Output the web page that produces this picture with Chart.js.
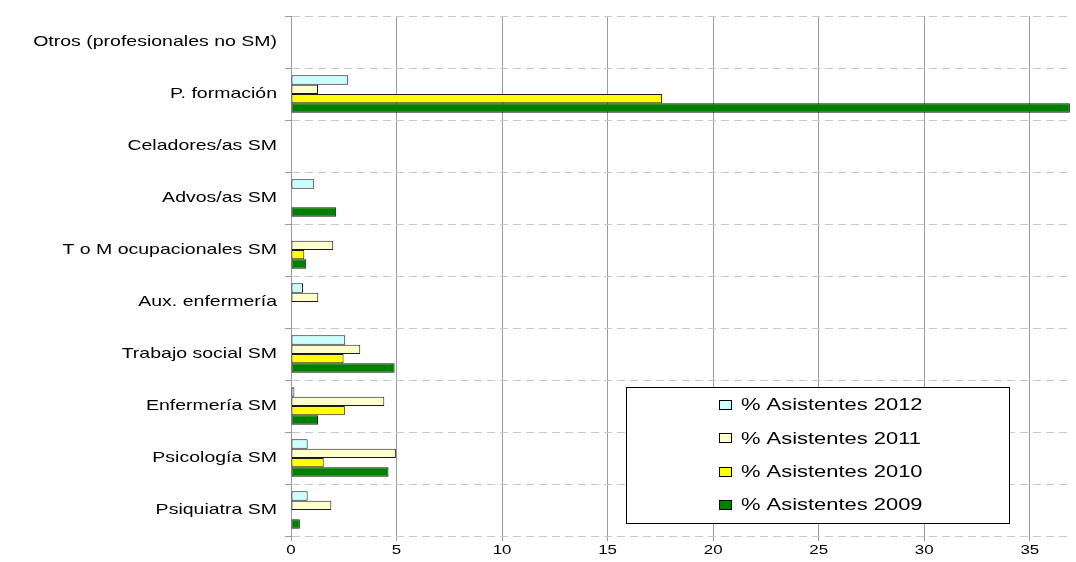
<!DOCTYPE html>
<html>
<head>
<meta charset="utf-8">
<script src="https://cdn.jsdelivr.net/npm/chart.js@4.4.0/dist/chart.umd.min.js"></script>
<style>
  html, body { margin: 0; padding: 0; background: #fff; }
  #wrap { width: 1076px; height: 562px; }
</style>
</head>
<body>
<div id="wrap"><canvas id="c" width="1076" height="562"></canvas></div>
<script>
// Professional categories (top to bottom)
const categories = [
  'Otros (profesionales no SM)',
  'P. formación',
  'Celadores/as SM',
  'Advos/as SM',
  'T o M ocupacionales SM',
  'Aux. enfermería',
  'Trabajo social SM',
  'Enfermería SM',
  'Psicología SM',
  'Psiquiatra SM'
];

// Percentage of attendees per year
const asistentes2012 = [null, 2.71, null, 1.1, null, 0.57, 2.57, 0.16, 0.79, 0.79];
const asistentes2011 = [null, 1.28, null, null, 2.0, 1.29, 3.28, 4.42, 4.97, 1.91];
const asistentes2010 = [null, 17.58, null, null, 0.63, null, 2.49, 2.55, 1.55, null];
const asistentes2009 = [null, 36.9, null, 2.14, 0.72, null, 4.91, 1.28, 4.62, 0.42];

const xTicks = [0, 5, 10, 15, 20, 25, 30, 35];

const seriesLabels = ['% Asistentes 2012', '% Asistentes 2011', '% Asistentes 2010', '% Asistentes 2009'];
const seriesColors = ['#CCFFFF', '#FFFFCC', '#FFFF00', '#008000'];
const seriesValues = [asistentes2012, asistentes2011, asistentes2010, asistentes2009];

const FONT = '"Liberation Sans", Arial, sans-serif';
const STRETCH = 1.3;   // horizontally widened lettering

// Draw text stretched horizontally, anchored at (x, y) with the given alignment
function wideText(ctx, text, x, y, size, align, sx) {
  ctx.save();
  ctx.font = size + 'px ' + FONT;
  ctx.textBaseline = 'middle';
  ctx.fillStyle = '#000000';
  const w = ctx.measureText(text).width * sx;
  let left = x;
  if (align === 'right') left = x - w;
  else if (align === 'center') left = x - w / 2;
  ctx.translate(left, y);
  ctx.scale(sx, 1);
  ctx.textAlign = 'left';
  ctx.fillText(text, 0, 0);
  ctx.restore();
}

// Axis labels drawn at the positions the scales give
const axisLabels = {
  id: 'axisLabels',
  afterDraw(chart) {
    const ctx = chart.ctx;
    const ys = chart.scales.y;
    const xs = chart.scales.x;
    ys.ticks.forEach((t, i) => {
      wideText(ctx, String(chart.data.labels[t.value]), 277, ys.getPixelForTick(i), 15, 'right', STRETCH);
    });
    xs.ticks.forEach((t) => {
      wideText(ctx, String(t.value), xs.getPixelForValue(t.value), 550, 13, 'center', STRETCH);
    });
  }
};

// Boxed legend drawn inside the plot area
const boxedLegend = {
  id: 'boxedLegend',
  afterDraw(chart) {
    const ctx = chart.ctx;
    const x0 = 626, y0 = 387, w = 383, h = 136;
    ctx.save();
    ctx.fillStyle = '#ffffff';
    ctx.fillRect(x0, y0, w, h);
    ctx.strokeStyle = '#000000';
    ctx.lineWidth = 1;
    ctx.setLineDash([]);
    ctx.strokeRect(x0 + 0.5, y0 + 0.5, w, h);
    chart.data.datasets.forEach((ds, i) => {
      const cy = 405 + i * 33.3;
      ctx.fillStyle = ds.backgroundColor;
      ctx.fillRect(719.5, Math.round(cy) - 4.5, 12, 9);
      ctx.strokeStyle = '#000000';
      ctx.strokeRect(719.5, Math.round(cy) - 4.5, 12, 9);
      wideText(ctx, ds.label, 741, cy + 1, 16, 'left', 1.37);
    });
    ctx.restore();
  }
};

new Chart(document.getElementById('c'), {
  type: 'bar',
  data: {
    labels: categories,
    datasets: seriesLabels.map((label, i) => ({
      label: label,
      data: seriesValues[i],
      backgroundColor: seriesColors[i],
      borderColor: '#1a1a1a',
      borderWidth: 1,
      borderSkipped: false,
      categoryPercentage: 0.72,
      barPercentage: 1.0
    }))
  },
  options: {
    indexAxis: 'y',
    responsive: false,
    animation: false,
    layout: { padding: { top: 16, right: 4, left: 0, bottom: 0 } },
    plugins: {
      legend: { display: false },
      tooltip: { enabled: false }
    },
    scales: {
      x: {
        min: 0,
        max: 37,
        afterBuildTicks(scale) {
          scale.ticks = xTicks.map(v => ({ value: v }));
        },
        afterFit(scale) { scale.height = 26; },
        grid: {
          color: '#9a9a9a',
          lineWidth: 1,
          drawTicks: true,
          tickLength: 5
        },
        border: { display: false },
        ticks: { display: false }
      },
      y: {
        afterFit(scale) { scale.width = 291; },
        grid: {
          offset: true,
          color: '#c8c8c8',
          lineWidth: 1,
          tickLength: 6,
          tickColor: '#9a9a9a'
        },
        border: { display: true, color: '#9a9a9a', dash: [8, 5] },
        ticks: { display: false }
      }
    }
  },
  plugins: [axisLabels, boxedLegend]
});
</script>
</body>
</html>
